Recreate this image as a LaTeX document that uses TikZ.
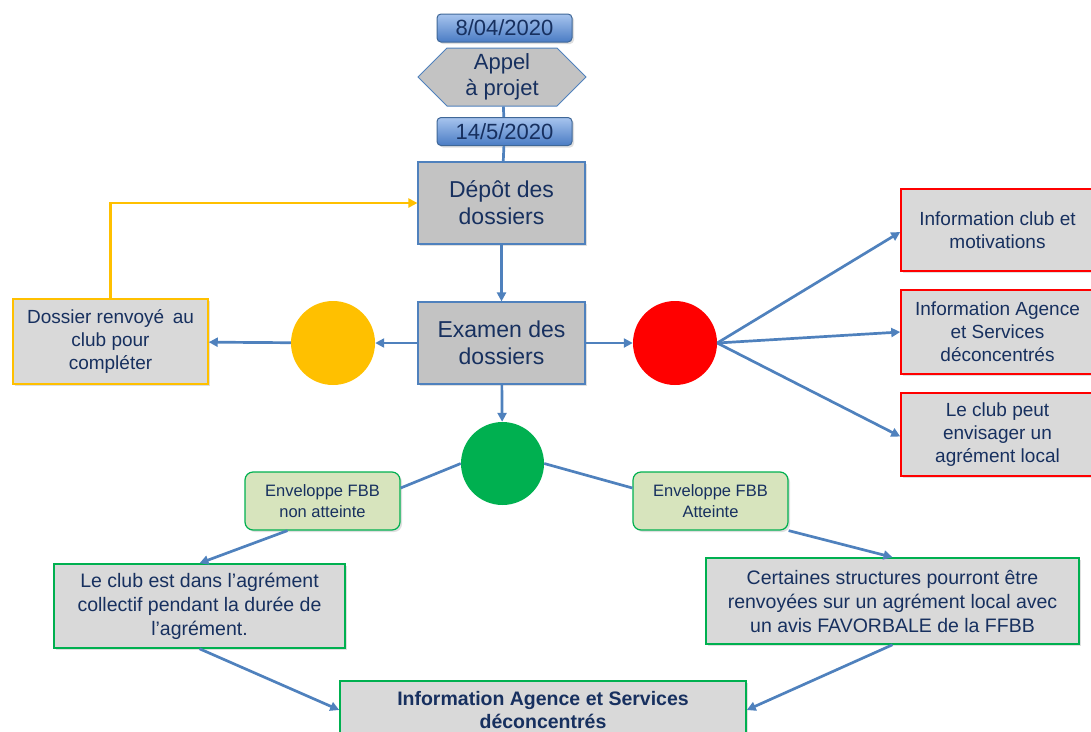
\documentclass[tikz,border=0pt]{standalone}
\usepackage{fontspec}
\setmainfont{Liberation Sans}
\usetikzlibrary{arrows.meta,shapes.symbols,shadows}

\definecolor{txtblue}{HTML}{17305F}
\definecolor{lineblue}{HTML}{4F81BD}
\definecolor{boxgray}{HTML}{D9D9D9}
\definecolor{topgray}{HTML}{C3C3C3}
\definecolor{ored}{HTML}{FF0000}
\definecolor{oyellow}{HTML}{FFC000}
\definecolor{ogreen}{HTML}{00B050}
\definecolor{lightgreen}{HTML}{D7E4BD}
\definecolor{datetop}{HTML}{A7C4EE}
\definecolor{datebot}{HTML}{4A7CC4}

\tikzset{
  shade/.style={drop shadow={opacity=.25,shadow xshift=2pt,shadow yshift=-2pt}},
  datebox/.style={rectangle,rounded corners=4pt,draw=lineblue!80!black,line width=1pt,
    top color=datetop,bottom color=datebot,text=txtblue,minimum width=135pt,minimum height=28pt,
    font=\fontsize{22}{26}\selectfont,shade},
  hexa/.style={shape=signal,signal to=east and west,signal pointer angle=90,draw=lineblue,
    line width=1pt,fill=topgray,text=txtblue,minimum width=168pt,minimum height=58pt,inner xsep=0pt,
    align=center,font=\fontsize{22}{26}\selectfont},
  topbox/.style={rectangle,draw=lineblue,line width=1.2pt,fill=topgray,text=txtblue,
    minimum width=167pt,minimum height=82pt,align=center,font=\fontsize{23}{27}\selectfont,shade},
  sidebox/.style={rectangle,line width=1.5pt,fill=boxgray,text=txtblue,align=center,
    font=\fontsize{19}{23}\selectfont,shade},
  envbox/.style={rectangle,rounded corners=8pt,draw=ogreen,line width=1.2pt,fill=lightgreen,
    text=txtblue,minimum width=155pt,minimum height=58pt,align=center,
    font=\fontsize{16.5}{21}\selectfont,shade},
  dot/.style={circle,minimum size=84pt,inner sep=0pt},
  link/.style={draw=lineblue,line width=2.7pt},
  >={Triangle[length=9pt,width=9pt]}
}

\begin{document}
\begin{tikzpicture}[x=1pt,y=-1pt]
\useasboundingbox (0,0) rectangle (1091,731);

% dates et appel
\node[datebox] (date1) at (504.5,28) {8/04/2020};
\node[hexa] (appel) at (502,77) {Appel\\à projet};
\node[datebox] (date2) at (504.5,131.5) {14/5/2020};

\node[topbox] (depot) at (501.5,203) {Dépôt des\\dossiers};
\node[topbox] (examen) at (501.5,343) {Examen des\\dossiers};

\node[dot,fill=oyellow] (jaune) at (333,343) {};
\node[dot,fill=ored] (rouge) at (675,343) {};
\node[dot,fill=ogreen,minimum size=83pt] (vert) at (502.5,463.5) {};

\node[sidebox,draw=oyellow,minimum width=195pt,minimum height=85pt] (renvoye) at (110.5,341.5)
  {Dossier renvoyé \,au\\club pour\\compléter};

\node[sidebox,draw=ored,minimum width=193pt,minimum height=82pt] (info1) at (997.5,230)
  {Information club et\\motivations};
\node[sidebox,draw=ored,minimum width=193pt,minimum height=84pt] (info2) at (997.5,332)
  {Information Agence\\et Services\\déconcentrés};
\node[sidebox,draw=ored,minimum width=193pt,minimum height=83pt] (info3) at (997.5,434.5)
  {Le club peut\\envisager un\\agrément local};

\node[envbox] (envnon) at (322.5,501) {Enveloppe FBB\\non atteinte};
\node[envbox] (envatt) at (710.5,501) {Enveloppe FBB\\Atteinte};

\node[sidebox,draw=ogreen,minimum width=291pt,minimum height=84pt,font=\fontsize{19.5}{24}\selectfont]
  (leclub) at (199.5,606)
  {Le club est dans l’agrément\\collectif pendant la durée de\\l’agrément.};
\node[sidebox,draw=ogreen,minimum width=373pt,minimum height=86pt,font=\fontsize{19.5}{24}\selectfont]
  (certaines) at (892.5,601)
  {Certaines structures pourront être\\renvoyées sur un agrément local avec\\un avis FAVORBALE de la FFBB};
\node[sidebox,draw=ogreen,minimum width=406pt,minimum height=58pt,font=\bfseries\fontsize{19.5}{23}\selectfont]
  (infobas) at (543,710)
  {Information Agence et Services\\déconcentrés};

% liaisons
\draw[link] (appel) -- (date2);
\draw[link] (date2) -- (depot);
\draw[link,->] (depot) -- (examen);
\draw[link,->] (examen) -- (jaune);
\draw[link,->] (jaune) -- (renvoye);
\draw[draw=oyellow,line width=2.7pt,->] (renvoye.north) |- (depot.west);
\draw[link,->] (examen) -- (rouge);
\draw[link,->] (rouge.east) -- ([yshift=-2pt]info1.west);
\draw[link,->] (rouge.east) -- (info2.west);
\draw[link,->] (rouge.east) -- ([yshift=-2pt]info3.west);
\draw[link,->] (examen) -- (vert);
\draw[link] (vert.west) -- ([yshift=13pt]envnon.east);
\draw[link] (vert.east) -- ([yshift=13pt]envatt.west);
\draw[link,->] ([xshift=-35pt]envnon.south) -- (leclub.north);
\draw[link,->] (envatt.south east) -- (certaines.north);
\draw[link,->] (leclub.south) -- (infobas.west);
\draw[link,->] (certaines.south) -- (infobas.east);
\end{tikzpicture}
\end{document}
